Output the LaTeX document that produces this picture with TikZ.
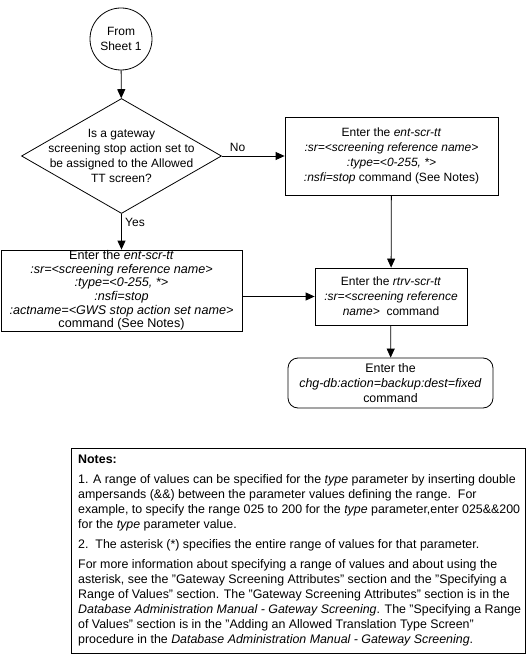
\documentclass[tikz,border=0pt]{standalone}
\usepackage{fontspec}
\setmainfont{Liberation Sans}
\usetikzlibrary{shapes.geometric,arrows.meta}
\begin{document}
\begin{tikzpicture}[x=1pt,y=-1pt,
  every node/.style={font=\fontsize{12}{15}\selectfont},
  box/.style={draw,line width=0.8pt,rectangle,inner sep=0pt,align=center},
  arr/.style={line width=0.8pt,-{Triangle[length=9pt,width=8pt]}},
  ln/.style={line width=0.8pt}]
\useasboundingbox (0,0) rectangle (527,655);
\node[draw,circle,line width=0.8pt,minimum size=62pt,inner sep=0pt,align=center] (start) at (121,39) {From\\Sheet 1};
\node[draw,diamond,line width=0.8pt,minimum width=200pt,minimum height=115pt,inner sep=0pt] (dec) at (121.5,156) {};
\node[align=center,inner sep=0pt] (dectext) at (dec.center) {Is a gateway\\screening stop action set to\\be assigned to the Allowed\\TT screen?};
\node[box,minimum width=213pt,minimum height=78pt] (boxR) at (391.5,156) {Enter the \textit{ent-scr-tt}\\\textit{:sr=<screening reference name>}\\\textit{:type=<0-255, *>}\\\textit{:nsfi=stop} command (See Notes)};
\node[box,minimum width=241pt,minimum height=81pt,font=\fontsize{12.6}{13.6}\selectfont] (boxL) at (121.5,290.5) {Enter the \textit{ent-scr-tt}\\\textit{:sr=<screening reference name>}\\\textit{:type=<0-255, *>}\\\textit{:nsfi=stop}\\\textit{:actname=<GWS stop action set name>}\\command (See Notes)};
\node[box,minimum width=152pt,minimum height=57pt] (rtrv) at (391,296.5) {Enter the \textit{rtrv-scr-tt}\\\textit{:sr=<screening reference}\\\textit{name>}\ \ command};
\node[box,rounded corners=10pt,minimum width=205pt,minimum height=50pt,font=\fontsize{12.4}{15}\selectfont] (end) at (390.5,383) {Enter the\\\textit{chg-db:action=backup:dest=fixed}\\command};
\node[draw,line width=0.8pt,anchor=north west,minimum width=454pt,minimum height=205pt,inner sep=0pt] (notesbox) at (71,448) {};
\node[anchor=north west,align=left,inner sep=0pt,font=\fontsize{12.4}{15}\selectfont] (notes) at (78,455) {\textbf{Notes:}\\[5pt]
1. A range of values can be specified for the \textit{type} parameter by inserting double\\
ampersands (\&\&) between the parameter values defining the range.\ \ For\\
example, to specify the range 025 to 200 for the \textit{type} parameter,enter 025\&\&200\\
for the \textit{type} parameter value.\\[5pt]
2.\ \ The asterisk (*) specifies the entire range of values for that parameter.\\[5pt]
For more information about specifying a range of values and about using the\\
asterisk, see the "Gateway Screening Attributes" section and the "Specifying a\\
Range of Values" section. The "Gateway Screening Attributes" section is in the\\
\textit{Database Administration Manual - Gateway Screening}. The "Specifying a Range\\
of Values" section is in the "Adding an Allowed Translation Type Screen"\\
procedure in the \textit{Database Administration Manual - Gateway Screening}.};
\draw[arr] (start) -- (dec);
\draw[arr] (dec.east) -- node[above,pos=0.25,yshift=1pt]{No} (boxR.west);
\draw[arr] (dec.south) -- node[right,pos=0.25]{Yes} (boxL.north);
\draw[arr] (boxR) -- (rtrv);
\draw[arr] (boxL.east |- rtrv.west) -- (rtrv.west);
\draw[arr] (rtrv) -- (end);
\end{tikzpicture}
\end{document}
